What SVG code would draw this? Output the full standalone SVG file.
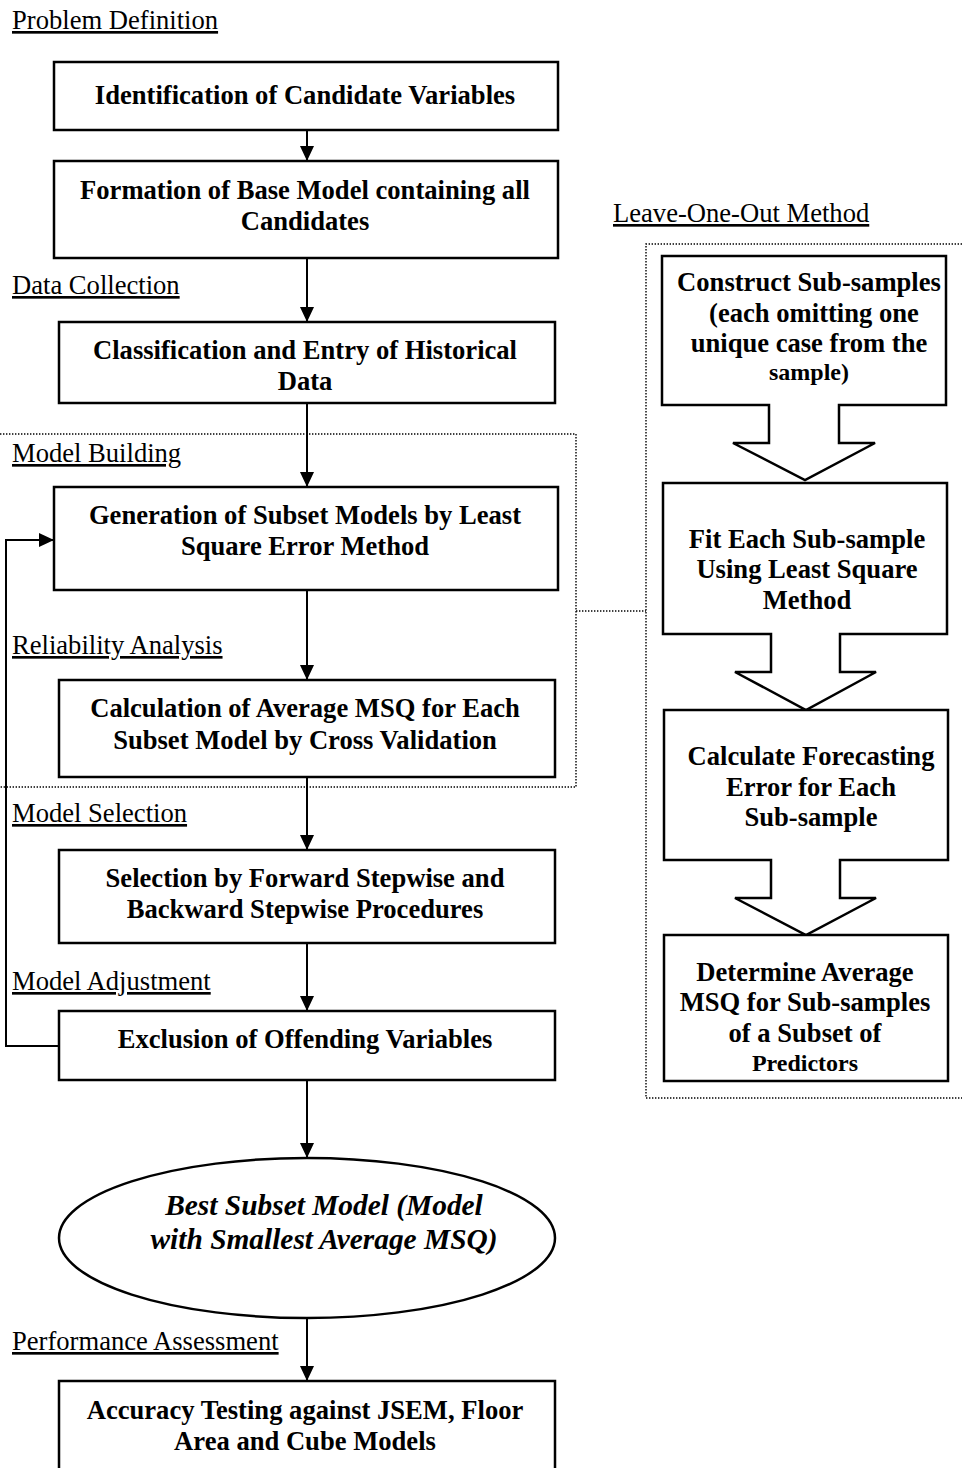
<svg xmlns="http://www.w3.org/2000/svg" width="962" height="1468" viewBox="0 0 962 1468">
<style>
.box{fill:#fff;stroke:#000;stroke-width:2.5}
.t{font-family:"Liberation Serif","Times New Roman",serif;font-weight:bold;font-size:26.6px;text-anchor:middle;fill:#000}
.ts{font-size:24px}
.ti{font-style:italic;font-size:29.4px}
.lab{font-family:"Liberation Serif","Times New Roman",serif;font-size:26.6px;fill:#000;text-decoration:underline}
.dot{fill:none;stroke:#000;stroke-width:1.4;stroke-dasharray:1.4 1.6}
.con{fill:none;stroke:#000;stroke-width:2}
</style>
<defs>
<marker id="ah" viewBox="0 0 15 14" refX="15" refY="7" markerWidth="15" markerHeight="14" markerUnits="userSpaceOnUse" orient="auto">
<path d="M0,0 L15,7 L0,14 Z" fill="#000"/>
</marker>
</defs>
<rect width="962" height="1468" fill="#fff"/>

<g id="regions">
<path class="dot" d="M0,434 H576 V787 H0"/>
<path class="dot" d="M576,611 H646"/>
<path class="dot" d="M962,244 H646 V1098 H962"/>
</g>

<g id="labels">
<text class="lab" x="12" y="29">Problem Definition</text>
<text class="lab" x="12" y="294">Data Collection </text>
<text class="lab" x="12" y="462">Model Building</text>
<text class="lab" x="12" y="654">Reliability Analysis</text>
<text class="lab" x="12" y="822">Model Selection</text>
<text class="lab" x="12" y="990">Model Adjustment</text>
<text class="lab" x="12" y="1350">Performance Assessment</text>
<text class="lab" x="613" y="222">Leave-One-Out Method</text>
</g>

<g id="connectors">
<path class="con" d="M307,130 V161" marker-end="url(#ah)"/>
<path class="con" d="M307,258 V322" marker-end="url(#ah)"/>
<path class="con" d="M307,403 V487" marker-end="url(#ah)"/>
<path class="con" d="M307,590 V680" marker-end="url(#ah)"/>
<path class="con" d="M307,777 V850" marker-end="url(#ah)"/>
<path class="con" d="M307,943 V1011" marker-end="url(#ah)"/>
<path class="con" d="M307,1080 V1158" marker-end="url(#ah)"/>
<path class="con" d="M307,1318 V1381" marker-end="url(#ah)"/>
<path class="con" d="M59,1046 H6 V540 H54" marker-end="url(#ah)"/>
</g>

<g id="n1"><rect class="box" x="54" y="62" width="504" height="68"/>
<text class="t" x="305" y="104">Identification of Candidate Variables</text></g>
<g id="n2"><rect class="box" x="54" y="161" width="504" height="97"/>
<text class="t" x="305" y="199">Formation of Base Model containing all</text>
<text class="t" x="305" y="230">Candidates</text></g>
<g id="n3"><rect class="box" x="59" y="322" width="496" height="81"/>
<text class="t" x="305" y="359">Classification and Entry of Historical</text>
<text class="t" x="305" y="390">Data</text></g>
<g id="n4"><rect class="box" x="54" y="487" width="504" height="103"/>
<text class="t" x="305" y="524">Generation of Subset Models by Least</text>
<text class="t" x="305" y="555">Square Error Method</text></g>
<g id="n5"><rect class="box" x="59" y="680" width="496" height="97"/>
<text class="t" x="305" y="717">Calculation of Average MSQ for Each</text>
<text class="t" x="305" y="749">Subset Model by Cross Validation</text></g>
<g id="n6"><rect class="box" x="59" y="850" width="496" height="93"/>
<text class="t" x="305" y="887">Selection by Forward Stepwise and</text>
<text class="t" x="305" y="918">Backward Stepwise Procedures</text></g>
<g id="n7"><rect class="box" x="59" y="1011" width="496" height="69"/>
<text class="t" x="305" y="1048">Exclusion of Offending Variables</text></g>
<g id="n8"><ellipse class="box" cx="307" cy="1238" rx="248" ry="80"/>
<text class="t ti" x="324" y="1215">Best Subset Model (Model</text>
<text class="t ti" x="324" y="1249">with Smallest Average MSQ)</text></g>
<g id="n9"><rect class="box" x="59" y="1381" width="496" height="100"/>
<text class="t" x="305" y="1419">Accuracy Testing against JSEM, Floor</text>
<text class="t" x="305" y="1450">Area and Cube Models</text></g>

<g id="r1"><path class="box" d="M662,256 H946 V405 H839 V443 H875 L805,480 L733,443 H769 V405 H662 Z"/>
<text class="t" x="809" y="291">Construct Sub-samples</text>
<text class="t" x="814" y="322">(each omitting one</text>
<text class="t" x="809" y="352">unique case from the</text>
<text class="t ts" x="809" y="380">sample)</text></g>
<g id="r2"><path class="box" d="M663,483 H947 V634 H840 V672 H876 L806,710 L735,672 H771 V634 H663 Z"/>
<text class="t" x="807" y="548">Fit Each Sub-sample</text>
<text class="t" x="807" y="578">Using Least Square</text>
<text class="t" x="807" y="609">Method</text></g>
<g id="r3"><path class="box" d="M664,710 H948 V860 H840 V898 H876 L806,935 L735,898 H771 V860 H664 Z"/>
<text class="t" x="811" y="765">Calculate Forecasting</text>
<text class="t" x="811" y="796">Error for Each</text>
<text class="t" x="811" y="826">Sub-sample</text></g>
<g id="r4"><rect class="box" x="664" y="935" width="284" height="146"/>
<text class="t" x="805" y="981">Determine Average</text>
<text class="t" x="805" y="1011">MSQ for Sub-samples</text>
<text class="t" x="805" y="1042">of a Subset of</text>
<text class="t ts" x="805" y="1071">Predictors</text></g>
</svg>
